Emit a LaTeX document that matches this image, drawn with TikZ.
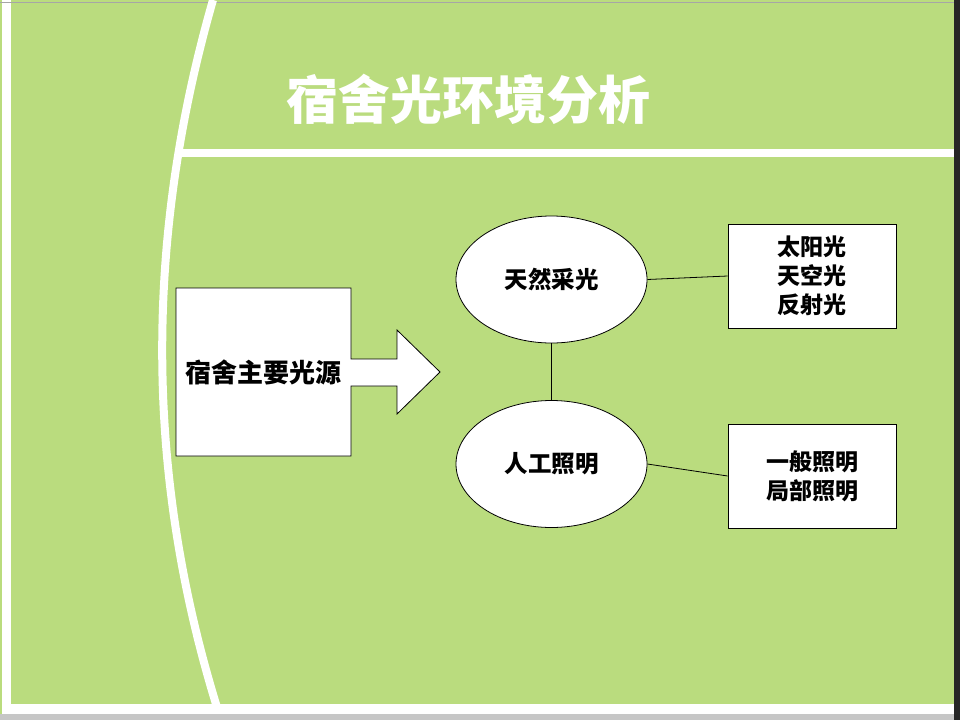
\documentclass[tikz,border=0pt]{standalone}
\usepackage{fontspec}
\usetikzlibrary{shapes.geometric}
\newfontfamily\cjk{Noto Sans CJK SC Black}
\definecolor{slidegreen}{RGB}{186,220,126}
\tikzset{
  oval/.style={ellipse, draw, fill=white, line width=0.8pt, minimum width=191pt, minimum height=127pt,
    font=\cjk\fontsize{23.5}{29}\selectfont},
  listbox/.style={rectangle, draw, fill=white, line width=0.8pt, minimum width=168pt, minimum height=104pt,
    align=center, font=\cjk\fontsize{23}{29}\selectfont},
  link/.style={draw, line width=0.8pt},
  band/.style={white, line width=8pt},
}
\begin{document}
\begin{tikzpicture}[x=1pt, y=-1pt]
  \useasboundingbox (0,0) rectangle (960,720);
  % slide background and frame
  \fill[slidegreen] (0,0) rectangle (960,720);
  \fill[gray!45] (0,714) rectangle (960,720);
  \fill[white] (2,0) rectangle (11,714);
  \fill[white] (2,704) rectangle (954,714);
  \draw[gray!70, line width=1pt] (0,2.5) -- (954,2.5);
  \fill[black!85] (954,0) rectangle (960,720);
  % white bands
  \begin{scope}
    \clip (0,0) rectangle (954,704);
    \draw[band] (213,0) .. controls (144,240) and (144,480) .. (221,720);
    \draw[band] (175,152.5) -- (954,152.5);
  \end{scope}
  % title
  \node[text=white, font=\cjk\fontsize{52}{60}\selectfont] (title) at (468,99) {宿舍光环境分析};
  % source box with arrow
  \draw[fill=white, line width=0.8pt] (176,288) -- (351,288) -- (351,359) -- (397,359) -- (397,330)
    -- (440,372) -- (397,414) -- (397,386) -- (351,386) -- (351,456) -- (176,456) -- cycle;
  \node[font=\cjk\fontsize{26}{30}\selectfont] (src) at (263,372) {宿舍主要光源};
  % two kinds of light
  \node[oval] (nat) at (551.5,279.5) {天然采光};
  \node[oval] (art) at (551.5,464) {人工照明};
  \node[listbox] (natlist) at (812,276) {太阳光\\天空光\\反射光};
  \node[listbox] (artlist) at (812,476) {一般照明\\局部照明};
  \draw[link] (nat) -- (art);
  \draw[link] (nat.east) -- (natlist.west);
  \draw[link] (art.east) -- (artlist.west);
\end{tikzpicture}
\end{document}
